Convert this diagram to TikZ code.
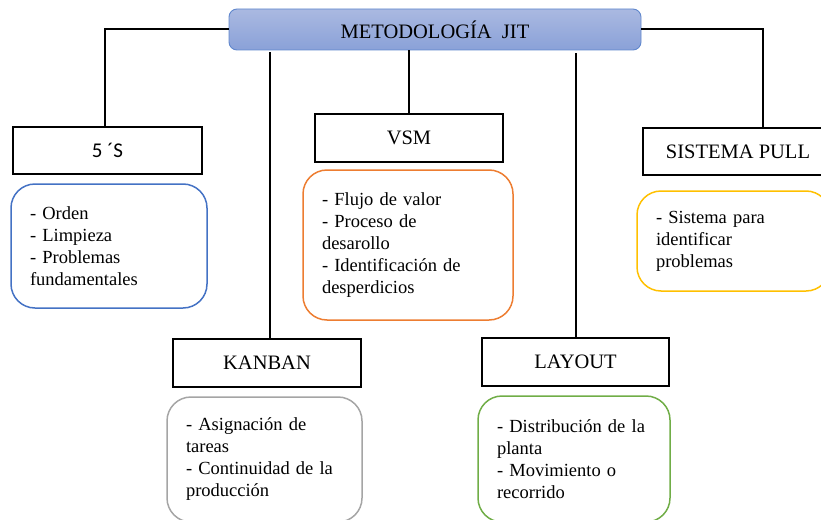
\documentclass[tikz,border=0pt]{standalone}
\usepackage{fontspec}
\setmainfont{Liberation Serif}
\newfontfamily\calibrilike{Carlito}
\usetikzlibrary{positioning}
\definecolor{MapBlue}{HTML}{4472C4}
\definecolor{MapOrange}{HTML}{ED7D31}
\definecolor{MapYellow}{HTML}{FFC000}
\definecolor{MapGray}{HTML}{A5A5A5}
\definecolor{MapGreen}{HTML}{70AD47}
\definecolor{HeadTop}{HTML}{AAB9E1}
\definecolor{HeadBot}{HTML}{8AA1D8}

\begin{document}
\begin{tikzpicture}[
  x=1pt,y=-1pt,
  every node/.style={font=\fontsize{18.5}{22}\selectfont},
  head/.style={draw=MapBlue!85,line width=0.9pt,rounded corners=8pt,
    top color=HeadTop,bottom color=HeadBot,minimum width=412pt,
    minimum height=41pt,font=\fontsize{20.5}{24}\selectfont},
  topic/.style={draw,line width=1.3pt,minimum width=188pt,minimum height=48pt,
    inner sep=0pt,font=\fontsize{20.5}{24}\selectfont},
  notes/.style={draw,line width=1.5pt,rounded corners=24pt,inner xsep=19pt,
    inner ysep=0pt,align=left},
  link/.style={line width=2pt}
]
  \useasboundingbox (0,0) rectangle (821,519);
  \clip (0,0) rectangle (821,519);

  \node[head] (jit) at (435,29.5) {METODOLOG\'IA \ JIT};

  \node[topic,minimum width=189pt,minimum height=47pt] (five) at (107.5,150.5)
    {\calibrilike\fontsize{21}{24}\selectfont 5 ´S};
  \node[topic] (vsm) at (409,138) {VSM};
  \node[topic,minimum width=190pt,minimum height=47pt] (pull) at (738,151.5) {SISTEMA PULL};
  \node[topic] (kanban) at (267,363) {KANBAN};
  \node[topic,minimum width=187pt] (layout) at (575.5,362) {LAYOUT};

  \node[notes,draw=MapBlue,text width=158pt,minimum height=124pt] (fivenotes) at (109,246)
    {- Orden\\- Limpieza\\- Problemas\\fundamentales};
  \node[notes,draw=MapOrange,text width=172pt,minimum height=150pt] (vsmnotes) at (408,245)
    {- Flujo de valor\\- Proceso de\\desarollo\\- Identificaci\'on de\\desperdicios};
  \node[notes,draw=MapYellow,text width=155pt,minimum height=100pt] (pullnotes) at (733.5,241)
    {- Sistema para\\identificar\\problemas};
  \node[notes,draw=MapGray,text width=157pt,minimum height=125pt] (kanbannotes) at (264.5,459.5)
    {- Asignaci\'on de\\tareas\\- Continuidad de la\\producci\'on};
  \node[notes,draw=MapGreen,text width=154pt,minimum height=126pt] (layoutnotes) at (574,459)
    {- Distribuci\'on de la\\planta\\- Movimiento o\\recorrido};

  \draw[link] (jit.west) -| ([xshift=-3pt]five.north);
  \draw[link] (jit.east) -| ([xshift=25pt]pull.north);
  \draw[link] (vsm.north) -- (vsm.north |- jit.south);
  \draw[link] ([xshift=3pt]kanban.north) -- ([xshift=3pt,yshift=-2pt]kanban.north |- jit.south);
  \draw[link] (layout.north) -- ([yshift=-3pt]layout.north |- jit.south);
\end{tikzpicture}
\end{document}
